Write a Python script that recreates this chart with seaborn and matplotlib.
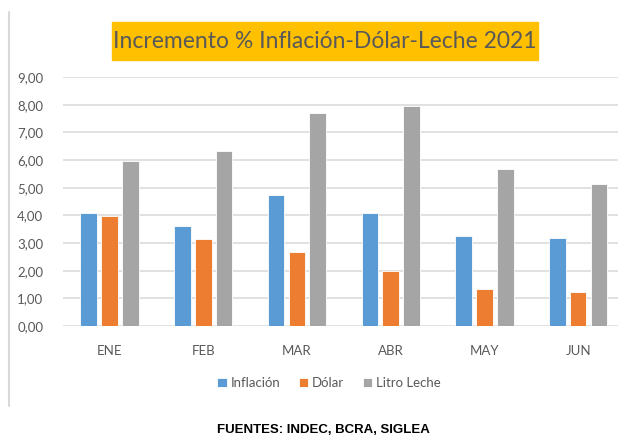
import numpy as np
import pandas as pd
import matplotlib.pyplot as plt
import matplotlib.patches as patches
import seaborn as sns

sns.set_theme(style="white")
plt.rcParams['font.family'] = ['Lato', 'DejaVu Sans']

# datos
meses = ["ENE", "FEB", "MAR", "ABR", "MAY", "JUN"]
inflacion = [4.1, 3.6, 4.75, 4.08, 3.27, 3.18]
dolar = [3.98, 3.13, 2.67, 1.97, 1.32, 1.22]
leche = [5.97, 6.34, 7.70, 7.95, 5.66, 5.14]
series = ["Inflación", "Dólar", "Litro Leche"]
colores = ["#5B9BD5", "#ED7D31", "#A5A5A5"]

df = pd.DataFrame({
    "mes": meses * 3,
    "serie": np.repeat(series, len(meses)),
    "valor": inflacion + dolar + leche,
})

fig = plt.figure(figsize=(6.18, 4.37), dpi=100)
ax = fig.add_axes([62.6 / 618, 1 - 326 / 437, 1 - 62.6 / 618, (326 - 77) / 437])

sns.barplot(data=df, x="mes", y="valor", hue="serie", palette=colores, saturation=1,
            width=0.666, gap=0.2, ax=ax, legend=True, edgecolor="white", linewidth=0.6)

gris = "#595959"
ax.set_ylim(0, 9)
ax.set_xlim(-0.5, 5.5 - 7 / 93.7)
ax.set_yticks(np.arange(0, 10, 1))
ax.set_yticklabels([f"{v:.2f}".replace(".", ",") for v in range(10)])
ax.yaxis.grid(True, color="#D9D9D9", linewidth=1.1)
ax.set_axisbelow(True)
for s in ax.spines.values():
    s.set_visible(False)
ax.tick_params(axis="y", length=0, pad=14, labelsize=9.5, labelcolor=gris)
ax.tick_params(axis="x", length=0, pad=14, labelsize=9.5, labelcolor=gris)
ax.set_xlabel("")
ax.set_ylabel("")

ax.legend(loc="center", bbox_to_anchor=(329 / 618, 1 - 383 / 437), bbox_transform=fig.transFigure,
          ncol=3, frameon=False, fontsize=9.5, handlelength=0.7, handleheight=0.7,
          handletextpad=0.3, columnspacing=1.4, labelcolor=gris)

# recuadro del titulo
fig.patches.append(patches.Rectangle((112 / 618, 1 - 60 / 437), 426 / 618, 38 / 437,
                                     transform=fig.transFigure, color="#FFC000", zorder=0))
fig.text(325 / 618, 1 - 42 / 437, "Incremento % Inflación-Dólar-Leche 2021",
         ha="center", va="center", fontsize=16.5, color=gris)

# borde izquierdo
fig.add_artist(plt.Line2D([9 / 618, 9 / 618], [1 - 12 / 437, 1 - 406 / 437],
                          transform=fig.transFigure, color="#D9D9D9", linewidth=1.5))

fig.text(323 / 618, 1 - 430 / 437, "FUENTES: INDEC, BCRA, SIGLEA", ha="center", va="center",
         fontsize=9.5, fontweight="bold", family="Liberation Sans", color="black")

fig.savefig("out.png", dpi=100)
